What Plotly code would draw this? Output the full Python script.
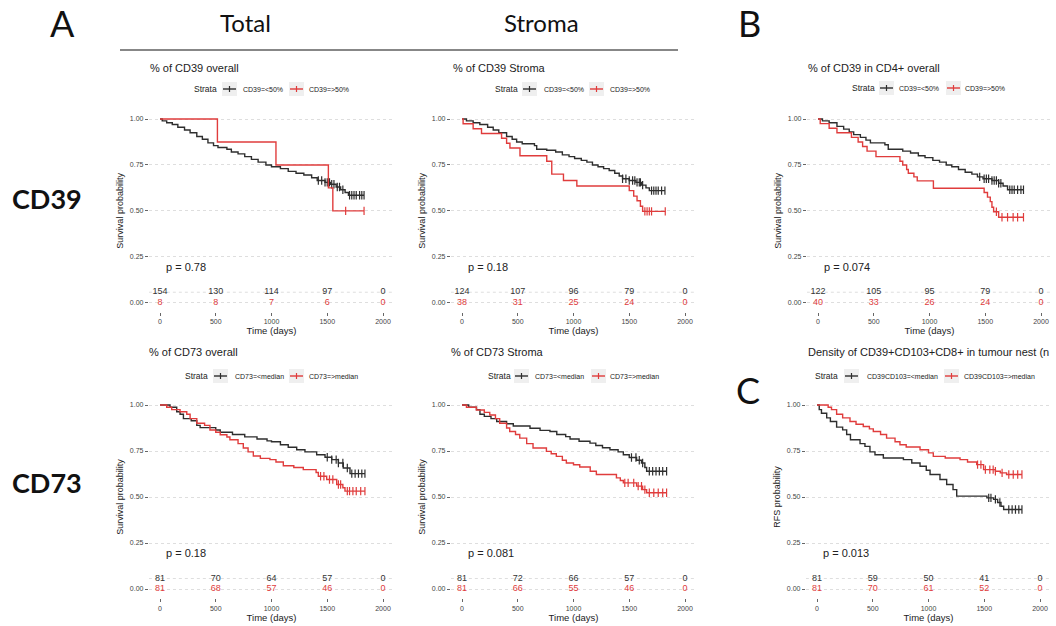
import plotly.graph_objects as go

W, H = 1056, 626

# ---------------- DATA ----------------
time_ticks = [0, 500, 1000, 1500, 2000]

# Panel 1: % of CD39 overall
p1_title = "% of CD39 overall"
p1_strata = ["CD39=<50%", "CD39=>50%"]
p1_pval = "p = 0.78"
p1_black_t = [0, 20, 60, 110, 160, 220, 270, 330, 380, 430, 480, 520, 600, 640, 700, 760, 820, 880, 950, 1000,
              1080, 1150, 1220, 1290, 1360, 1410, 1480, 1530, 1580, 1620, 1660, 1690]
p1_black_s = [1.0, 0.99, 0.98, 0.97, 0.955, 0.94, 0.925, 0.905, 0.89, 0.87, 0.855, 0.845, 0.835, 0.82, 0.81, 0.795,
              0.78, 0.765, 0.75, 0.74, 0.73, 0.715, 0.705, 0.695, 0.68, 0.665, 0.655, 0.645, 0.63, 0.615, 0.60, 0.585]
p1_black_cens = [1420, 1450, 1480, 1500, 1520, 1540, 1560, 1590, 1610, 1640, 1700, 1720, 1740, 1760, 1790, 1810, 1830]
p1_red_t = [0, 515, 1040, 1510, 1550]
p1_red_s = [1.0, 0.875, 0.75, 0.625, 0.5]
p1_red_cens = [1665, 1830]
p1_risk_black = [154, 130, 114, 97, 0]
p1_risk_red = [8, 8, 7, 6, 0]

# Panel 2: % of CD39 Stroma
p2_title = "% of CD39 Stroma"
p2_strata = ["CD39=<50%", "CD39=>50%"]
p2_pval = "p = 0.18"
p2_black_t = [0, 40, 100, 160, 230, 280, 330, 400, 450, 490, 540, 650, 670, 760, 840, 900, 960, 1010, 1070, 1120,
              1170, 1220, 1270, 1320, 1370, 1410, 1440, 1500, 1560, 1610, 1650, 1680]
p2_black_s = [1.0, 0.99, 0.98, 0.97, 0.955, 0.94, 0.925, 0.905, 0.89, 0.875, 0.865, 0.855, 0.835, 0.83, 0.82, 0.805,
              0.795, 0.785, 0.775, 0.765, 0.75, 0.74, 0.73, 0.72, 0.705, 0.69, 0.675, 0.665, 0.655, 0.64, 0.625, 0.61]
p2_black_cens = [1440, 1470, 1500, 1530, 1550, 1570, 1590, 1600, 1620, 1700, 1720, 1740, 1760, 1790, 1820]
p2_red_t = [0, 10, 100, 175, 355, 400, 430, 520, 760, 805, 910, 1030, 1500, 1540, 1570, 1600, 1620]
p2_red_s = [1.0, 0.974, 0.947, 0.921, 0.895, 0.868, 0.842, 0.8, 0.77, 0.70, 0.665, 0.635, 0.61, 0.58, 0.555, 0.525, 0.497]
p2_red_cens = [1640, 1660, 1680, 1700, 1823]
p2_risk_black = [124, 107, 96, 79, 0]
p2_risk_red = [38, 31, 25, 24, 0]

# Panel 3: % of CD39 in CD4+ overall
p3_title = "% of CD39 in CD4+ overall"
p3_strata = ["CD39=<50%", "CD39=>50%"]
p3_pval = "p = 0.074"
p3_black_t = [0, 40, 100, 170, 230, 280, 320, 380, 430, 470, 600, 630, 760, 830, 900, 960, 1030, 1090, 1150, 1200,
              1260, 1320, 1380, 1430, 1480, 1560, 1620, 1660, 1700]
p3_black_s = [1.0, 0.99, 0.98, 0.96, 0.945, 0.93, 0.915, 0.90, 0.885, 0.87, 0.86, 0.835, 0.825, 0.815, 0.80, 0.79,
              0.775, 0.765, 0.75, 0.74, 0.725, 0.71, 0.70, 0.685, 0.675, 0.665, 0.65, 0.635, 0.615]
p3_black_cens = [1450, 1490, 1510, 1530, 1560, 1580, 1600, 1620, 1640, 1720, 1740, 1760, 1790, 1820, 1843]
p3_red_t = [0, 20, 100, 170, 300, 360, 400, 440, 520, 735, 760, 795, 810, 860, 890, 1035, 1490, 1520, 1545, 1560,
            1575, 1620]
p3_red_s = [1.0, 0.975, 0.95, 0.925, 0.90, 0.875, 0.85, 0.825, 0.795, 0.77, 0.75, 0.725, 0.705, 0.685, 0.663, 0.623,
            0.60, 0.575, 0.55, 0.52, 0.495, 0.465]
p3_red_cens = [1600, 1650, 1700, 1750, 1790, 1843]
p3_risk_black = [122, 105, 95, 79, 0]
p3_risk_red = [40, 33, 26, 24, 0]

# Panel 4: % of CD73 overall
p4_title = "% of CD73 overall"
p4_strata = ["CD73=<median", "CD73=>median"]
p4_pval = "p = 0.18"
p4_black_t = [0, 90, 150, 180, 210, 280, 330, 360, 500, 540, 650, 760, 870, 960, 1000, 1080, 1150, 1226, 1300,
              1405, 1480, 1540, 1600, 1644, 1704]
p4_black_s = [1.0, 0.988, 0.963, 0.95, 0.926, 0.914, 0.889, 0.877, 0.864, 0.852, 0.84, 0.827, 0.815, 0.805, 0.80,
              0.784, 0.77, 0.757, 0.745, 0.73, 0.716, 0.703, 0.685, 0.658, 0.627]
p4_black_cens = [1500, 1540, 1580, 1600, 1640, 1680, 1720, 1750, 1780, 1810, 1838]
p4_red_t = [0, 60, 105, 180, 240, 270, 330, 400, 448, 500, 540, 600, 627, 700, 747, 790, 837, 900, 986, 1040, 1106,
            1200, 1285, 1400, 1420, 1495, 1585, 1640, 1659]
p4_red_s = [1.0, 0.988, 0.975, 0.963, 0.95, 0.926, 0.901, 0.889, 0.864, 0.852, 0.838, 0.826, 0.811, 0.79, 0.766,
            0.745, 0.723, 0.71, 0.703, 0.69, 0.67, 0.66, 0.649, 0.633, 0.613, 0.595, 0.568, 0.55, 0.532]
p4_red_cens = [1440, 1470, 1520, 1550, 1600, 1620, 1680, 1700, 1730, 1760, 1800, 1838]
p4_risk_black = [81, 70, 64, 57, 0]
p4_risk_red = [81, 68, 57, 46, 0]

# Panel 5: % of CD73 Stroma
p5_title = "% of CD73 Stroma"
p5_strata = ["CD73=<median", "CD73=>median"]
p5_pval = "p = 0.081"
p5_black_t = [0, 60, 130, 161, 200, 260, 311, 400, 460, 610, 700, 789, 850, 930, 969, 1050, 1148, 1200, 1260, 1327,
              1400, 1447, 1500, 1566, 1610, 1640, 1656]
p5_black_s = [1.0, 0.988, 0.975, 0.95, 0.938, 0.926, 0.91, 0.898, 0.886, 0.874, 0.862, 0.856, 0.84, 0.828, 0.815,
              0.803, 0.793, 0.78, 0.768, 0.757, 0.745, 0.73, 0.715, 0.70, 0.685, 0.66, 0.64]
p5_black_cens = [1520, 1560, 1590, 1620, 1680, 1710, 1740, 1770, 1800, 1835]
p5_red_t = [0, 40, 129, 200, 249, 300, 338, 400, 428, 480, 518, 580, 637, 757, 800, 846, 900, 936, 1000, 1056, 1150,
            1205, 1385, 1420, 1447, 1566, 1620, 1656]
p5_red_s = [1.0, 0.988, 0.973, 0.96, 0.946, 0.926, 0.901, 0.875, 0.856, 0.84, 0.82, 0.79, 0.766, 0.748, 0.735,
            0.721, 0.70, 0.685, 0.675, 0.663, 0.64, 0.622, 0.604, 0.59, 0.577, 0.559, 0.54, 0.523]
p5_red_cens = [1460, 1490, 1540, 1580, 1610, 1640, 1680, 1720, 1760, 1800, 1835]
p5_risk_black = [81, 72, 66, 57, 0]
p5_risk_red = [81, 66, 55, 46, 0]

# Panel 6: Density of CD39+CD103+CD8+ in tumour nest (title is cut at the figure edge in the original)
p6_title = "Density of CD39+CD103+CD8+ in tumour nest (n"
p6_strata = ["CD39CD103=<median", "CD39CD103=>median"]
p6_pval = "p = 0.013"
p6_black_t = [0, 20, 40, 87, 120, 176, 230, 266, 300, 386, 430, 475, 520, 595, 775, 850, 924, 980, 1014, 1103, 1163,
              1220, 1253, 1524, 1584, 1620, 1650, 1674]
p6_black_s = [1.0, 0.975, 0.955, 0.93, 0.91, 0.88, 0.865, 0.84, 0.811, 0.79, 0.775, 0.745, 0.73, 0.712, 0.703,
              0.685, 0.667, 0.645, 0.622, 0.595, 0.568, 0.54, 0.505, 0.495, 0.487, 0.47, 0.45, 0.432]
p6_black_cens = [1540, 1560, 1600, 1640, 1720, 1750, 1780, 1810, 1838]
p6_red_t = [0, 100, 130, 176, 230, 296, 350, 415, 470, 505, 570, 624, 700, 744, 800, 924, 1000, 1043, 1150, 1283,
            1350, 1432, 1494, 1600, 1644, 1700]
p6_red_s = [1.0, 0.988, 0.975, 0.95, 0.93, 0.91, 0.895, 0.883, 0.87, 0.856, 0.84, 0.82, 0.80, 0.784, 0.772, 0.757,
            0.74, 0.721, 0.712, 0.703, 0.69, 0.676, 0.649, 0.64, 0.631, 0.622]
p6_red_cens = [1440, 1470, 1510, 1550, 1580, 1600, 1660, 1720, 1760, 1800, 1838]
p6_risk_black = [81, 59, 50, 41, 0]
p6_risk_red = [81, 70, 61, 52, 0]

y_titles = ["Survival probability"] * 5 + ["RFS probability"]

# ---------------- LAYOUT / STYLE ----------------
BLACK = "#2e2e2e"
RED = "#e03c3c"
FONT = "Liberation Sans, Arial, sans-serif"
BIG = "Lato, Calibri, sans-serif"
DAY_PX = 0.1115
col_x0 = [160, 462, 818]
row_y = [(119.0, 302.7), (405.0, 589.0)]  # pixel of S=1.0 and S=0.0
risk_row_y = 0.057


def fx(px):
    return px / W


def fy(py):
    return 1 - py / H


panels = [
    dict(title=p1_title, strata=p1_strata, pval=p1_pval, bt=p1_black_t, bs=p1_black_s, bc=p1_black_cens,
         rt=p1_red_t, rs=p1_red_s, rc=p1_red_cens, rb=p1_risk_black, rr=p1_risk_red),
    dict(title=p2_title, strata=p2_strata, pval=p2_pval, bt=p2_black_t, bs=p2_black_s, bc=p2_black_cens,
         rt=p2_red_t, rs=p2_red_s, rc=p2_red_cens, rb=p2_risk_black, rr=p2_risk_red),
    dict(title=p3_title, strata=p3_strata, pval=p3_pval, bt=p3_black_t, bs=p3_black_s, bc=p3_black_cens,
         rt=p3_red_t, rs=p3_red_s, rc=p3_red_cens, rb=p3_risk_black, rr=p3_risk_red),
    dict(title=p4_title, strata=p4_strata, pval=p4_pval, bt=p4_black_t, bs=p4_black_s, bc=p4_black_cens,
         rt=p4_red_t, rs=p4_red_s, rc=p4_red_cens, rb=p4_risk_black, rr=p4_risk_red),
    dict(title=p5_title, strata=p5_strata, pval=p5_pval, bt=p5_black_t, bs=p5_black_s, bc=p5_black_cens,
         rt=p5_red_t, rs=p5_red_s, rc=p5_red_cens, rb=p5_risk_black, rr=p5_risk_red),
    dict(title=p6_title, strata=p6_strata, pval=p6_pval, bt=p6_black_t, bs=p6_black_s, bc=p6_black_cens,
         rt=p6_red_t, rs=p6_red_s, rc=p6_red_cens, rb=p6_risk_black, rr=p6_risk_red),
]

# title left x, title y, legend: strata x, key1 x, label1 x, key2 x, label2 x, legend y
title_pos = [(148, 68), (451, 68), (806, 68), (147, 352), (449, 352), (806, 352)]
legend_pos = [
    (192, 223, 241, 290, 307, 89),
    (493, 523, 542, 590, 608, 89),
    (850, 880, 897, 947, 963, 88),
    (183, 214, 233, 290, 307, 376),
    (486, 515, 533, 592, 608, 376),
    (813, 845, 865, 945, 962, 376),
]


def step_value(ts, ss, c):
    v = ss[0]
    for t, s in zip(ts, ss):
        if t <= c:
            v = s
    return v


fig = go.Figure()
annotations = []
shapes = []
layout_axes = {}

for i, p in enumerate(panels):
    r, c = divmod(i, 3)
    n = i + 1
    xs = "" if n == 1 else str(n)
    x0 = col_x0[c] - (1 if (r == 1 and c == 2) else 0)
    top, zero = row_y[r]
    unit = zero - top
    dom_x = [fx(x0 - 100 * DAY_PX), fx(x0 + 2100 * DAY_PX)]
    dom_y = [fy(zero + 0.05 * unit), fy(top - 0.05 * unit)]
    xref, yref = "x" + xs, "y" + xs

    layout_axes["xaxis" + xs] = dict(
        domain=dom_x, range=[-100, 2100], anchor=yref, tickvals=time_ticks,
        ticks="outside", ticklen=3, tickcolor="#666", tickfont=dict(size=7, color="#444", family=FONT),
        showgrid=False, zeroline=False, showline=False, fixedrange=True,
        title=dict(text="Time (days)", font=dict(size=9.5, color="#222", family=FONT), standoff=0),
    )
    layout_axes["yaxis" + xs] = dict(
        domain=dom_y, range=[-0.05, 1.05], anchor=xref,
        tickvals=[0, 0.25, 0.5, 0.75, 1.0], ticktext=["0.00", "0.25", "0.50", "0.75", "1.00"],
        ticks="outside", ticklen=3, tickcolor="#666", tickfont=dict(size=7, color="#444", family=FONT),
        showgrid=True, gridcolor="#dedede", griddash="dot", gridwidth=1,
        zeroline=False, showline=False, fixedrange=True,
        title=dict(text=y_titles[i], font=dict(size=9, color="#222", family=FONT), standoff=4),
    )

    # risk-row dotted line
    shapes.append(dict(type="line", xref=xref, yref=yref, x0=-100, x1=2100, y0=risk_row_y, y1=risk_row_y,
                       line=dict(color="#dedede", width=1, dash="dot"), layer="below"))

    for key_t, key_s, key_c, col in (("bt", "bs", "bc", BLACK), ("rt", "rs", "rc", RED)):
        ts, ss, cs = p[key_t], p[key_s], p[key_c]
        t_end = max(cs)
        fig.add_trace(go.Scatter(
            x=ts + [t_end], y=ss + [ss[-1]], mode="lines", line=dict(color=col, width=1.4, shape="hv"),
            xaxis=xref, yaxis=yref, showlegend=False, hoverinfo="skip"))
        fig.add_trace(go.Scatter(
            x=cs, y=[step_value(ts, ss, cc) for cc in cs], mode="markers",
            marker=dict(symbol="line-ns-open", size=6, color=col, line=dict(color=col, width=1.2)),
            xaxis=xref, yaxis=yref, showlegend=False, hoverinfo="skip"))

    # number at risk rows
    fig.add_trace(go.Scatter(x=time_ticks, y=[risk_row_y] * 5, mode="text", text=[str(v) for v in p["rb"]],
                             textfont=dict(size=9, color="#333", family=FONT), xaxis=xref, yaxis=yref,
                             showlegend=False, hoverinfo="skip", cliponaxis=False))
    fig.add_trace(go.Scatter(x=time_ticks, y=[0] * 5, mode="text", text=[str(v) for v in p["rr"]],
                             textfont=dict(size=9, color=RED, family=FONT), xaxis=xref, yaxis=yref,
                             showlegend=False, hoverinfo="skip", cliponaxis=False))

    # p-value
    annotations.append(dict(text=p["pval"], xref=xref, yref=yref, x=40, y=0.195, xanchor="left", yanchor="middle",
                            showarrow=False, font=dict(size=11, color="#222", family=FONT)))

    # panel title
    tx, ty = title_pos[i]
    annotations.append(dict(text=p["title"], xref="paper", yref="paper", x=fx(tx), y=fy(ty), xanchor="left",
                            yanchor="middle", showarrow=False, font=dict(size=11, color="#222", family=FONT)))

    # manual legend
    sx, k1, l1, k2, l2, ly = legend_pos[i]
    annotations.append(dict(text="Strata", xref="paper", yref="paper", x=fx(sx), y=fy(ly), xanchor="left",
                            yanchor="middle", showarrow=False, font=dict(size=8.5, color="#222", family=FONT)))
    for kx, lx, col, lab in ((k1, l1, BLACK, p["strata"][0]), (k2, l2, RED, p["strata"][1])):
        shapes.append(dict(type="rect", xref="paper", yref="paper", x0=fx(kx - 1), x1=fx(kx + 14),
                           y0=fy(ly + 7), y1=fy(ly - 7), fillcolor="#efefef", line=dict(width=0), layer="below"))
        shapes.append(dict(type="line", xref="paper", yref="paper", x0=fx(kx), x1=fx(kx + 13),
                           y0=fy(ly), y1=fy(ly), line=dict(color=col, width=1.4)))
        shapes.append(dict(type="line", xref="paper", yref="paper", x0=fx(kx + 6.5), x1=fx(kx + 6.5),
                           y0=fy(ly + 3), y1=fy(ly - 3), line=dict(color=col, width=1.2)))
        annotations.append(dict(text=lab, xref="paper", yref="paper", x=fx(lx), y=fy(ly), xanchor="left",
                                yanchor="middle", showarrow=False, font=dict(size=7, color="#222", family=FONT)))

# Figure-level headers
big = [("A", 62, 23, 36, False), ("Total", 245, 22, 24, False), ("Stroma", 541, 22, 24, False),
       ("B", 749, 23, 36, False), ("C", 748, 390, 36, False), ("CD39", 47, 198, 27, True), ("CD73", 47, 482, 27, True)]
for txt, x, y, sz, bold in big:
    annotations.append(dict(text=f"<b>{txt}</b>" if bold else txt, xref="paper", yref="paper", x=fx(x), y=fy(y),
                            xanchor="center", yanchor="middle", showarrow=False,
                            font=dict(size=sz, color="#111", family=BIG)))
shapes.append(dict(type="line", xref="paper", yref="paper", x0=fx(120), x1=fx(678), y0=fy(50), y1=fy(50),
                   line=dict(color="#111", width=1.2)))

fig.update_layout(
    width=W, height=H, margin=dict(l=0, r=0, t=0, b=0), paper_bgcolor="white", plot_bgcolor="white",
    showlegend=False, annotations=annotations, shapes=shapes, font=dict(family=FONT), **layout_axes,
)

fig.write_html("out.html", config={"displayModeBar": False},
               post_script="document.body.style.margin='0';document.body.style.overflow='hidden';")
